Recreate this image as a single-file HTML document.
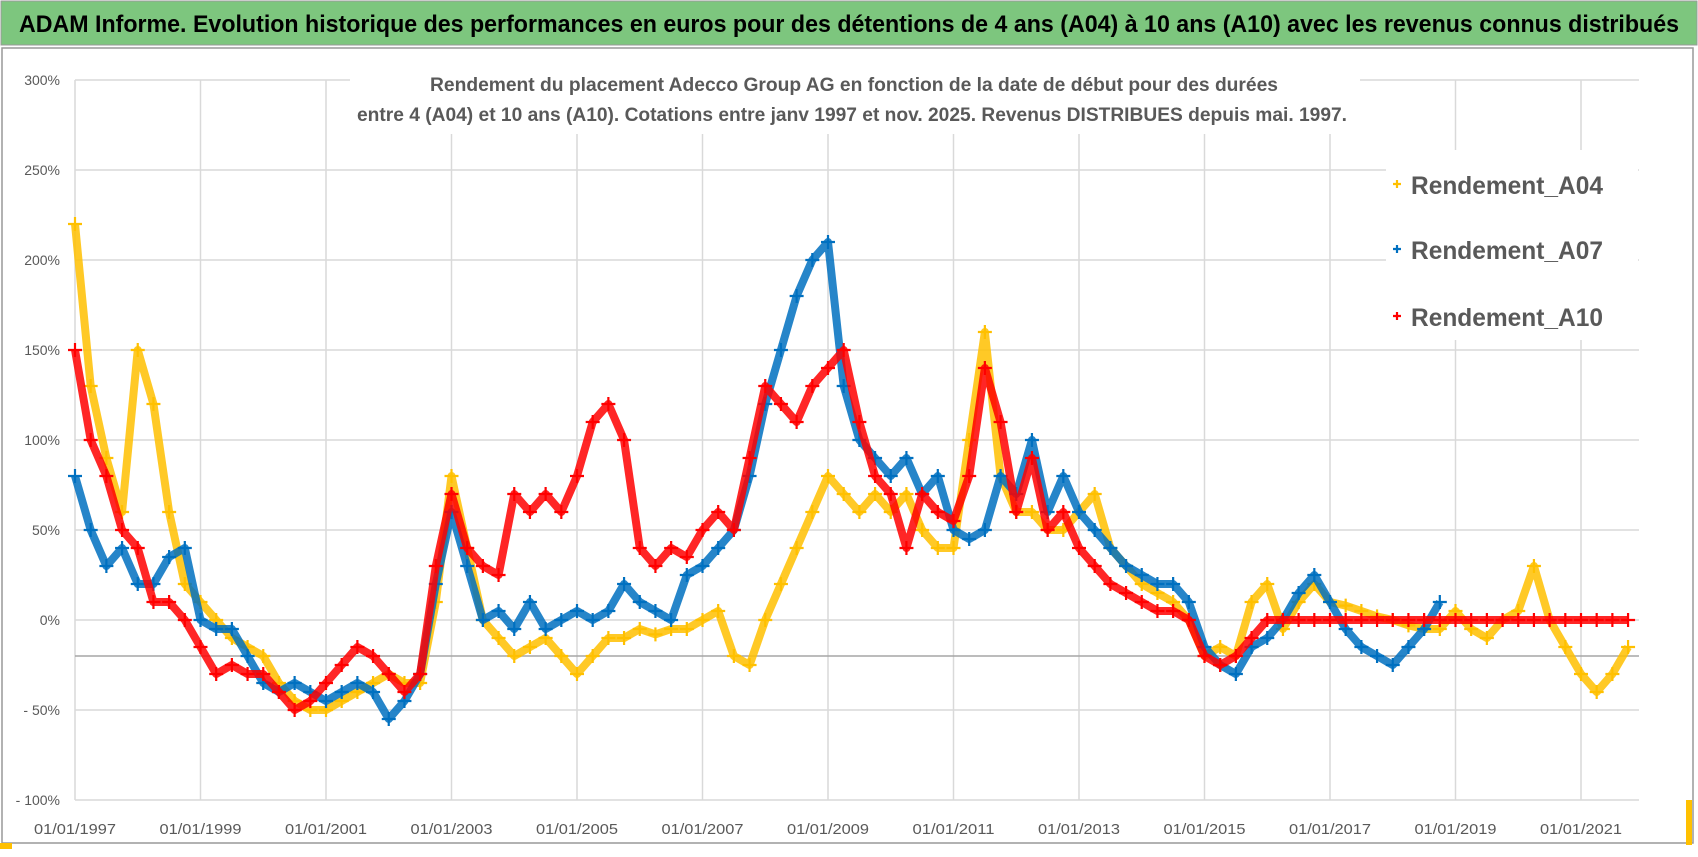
<!DOCTYPE html>
<html><head><meta charset="utf-8"><style>
html,body{margin:0;padding:0;background:#fff;}
svg{display:block;font-family:"Liberation Sans",sans-serif;}
</style></head><body>
<svg id="chart" width="1698" height="857" viewBox="0 0 1698 857">
<rect x="0" y="0" width="1698" height="857" fill="#fff"/>
<rect x="1" y="1" width="1696" height="44" fill="#7DC67E" stroke="#999" stroke-width="1"/>
<text x="849" y="32" text-anchor="middle" font-size="24" font-weight="bold" fill="#000" textLength="1660" lengthAdjust="spacingAndGlyphs">ADAM Informe. Evolution historique des performances en euros pour des détentions de 4 ans (A04) à 10 ans (A10) avec les revenus connus distribués</text>
<rect x="2" y="48" width="1691" height="795" fill="none" stroke="#999" stroke-width="1.5"/>
<g id="grid"></g>
<g id="series"></g>
<rect x="350" y="60" width="1010" height="74" fill="#fff"/>
<text x="854" y="91" text-anchor="middle" font-size="19" font-weight="bold" fill="#595959" textLength="848" lengthAdjust="spacingAndGlyphs">Rendement du placement Adecco Group AG en fonction de la date de début pour des durées</text>
<text x="852" y="121" text-anchor="middle" font-size="19" font-weight="bold" fill="#595959" textLength="990" lengthAdjust="spacingAndGlyphs">entre 4 (A04) et 10 ans (A10). Cotations entre janv 1997 et nov. 2025. Revenus DISTRIBUES depuis mai. 1997.</text>
<g id="legend">
<rect x="1386" y="150" width="252" height="190" fill="#fff"/>
</g>
<g id="yaxis"></g>
<g id="xaxis"></g>
<rect x="0" y="843" width="12" height="6" fill="#FFC000"/>
<rect x="1686" y="800" width="6" height="45" fill="#FFC000"/>
</svg>
<script>
const yTicks = [300,250,200,150,100,50,0,-50,-100];
const yTickLabels = ["300%","250%","200%","150%","100%","50%","0%","- 50%","- 100%"];
const xTickYears = [1997,1999,2001,2003,2005,2007,2009,2011,2013,2015,2017,2019,2021];
const xTickLabels = ["01/01/1997","01/01/1999","01/01/2001","01/01/2003","01/01/2005","01/01/2007","01/01/2009","01/01/2011","01/01/2013","01/01/2015","01/01/2017","01/01/2019","01/01/2021"];
const startYear = 1997;
const stepYears = 0.25;
const seriesNames = ["Rendement_A04","Rendement_A07","Rendement_A10"];
const rendementA04 = [220,130,90,60,150,120,60,20,10,0,-10,-15,-20,-35,-45,-50,-50,-45,-40,-35,-30,-35,-35,10,80,40,0,-10,-20,-15,-10,-20,-30,-20,-10,-10,-5,-8,-5,-5,0,5,-20,-25,0,20,40,60,80,70,60,70,60,70,50,40,40,100,160,80,60,60,50,50,60,70,40,30,20,15,10,0,-20,-15,-20,10,20,-5,10,20,10,8,5,2,0,-3,-5,-5,5,-5,-10,0,5,30,0,-15,-30,-40,-30,-15];
const rendementA07 = [80,50,30,40,20,20,35,40,0,-5,-5,-20,-35,-40,-35,-40,-45,-40,-35,-40,-55,-45,-30,20,60,30,0,5,-5,10,-5,0,5,0,5,20,10,5,0,25,30,40,50,80,120,150,180,200,210,130,100,90,80,90,70,80,50,45,50,80,70,100,60,80,60,50,40,30,25,20,20,10,-15,-25,-30,-15,-10,0,15,25,10,-5,-15,-20,-25,-15,-5,10];
const rendementA10 = [150,100,80,50,40,10,10,0,-15,-30,-25,-30,-30,-40,-50,-45,-35,-25,-15,-20,-30,-40,-30,30,70,40,30,25,70,60,70,60,80,110,120,100,40,30,40,35,50,60,50,90,130,120,110,130,140,150,110,80,70,40,70,60,55,80,140,110,60,90,50,60,40,30,20,15,10,5,5,0,-20,-25,-20,-10,0,0,0,0,0,0,0,0,0,0,0,0,0,0,0,0,0,0,0,0,0,0,0,0];
const seriesColors = ["#FFC000","#0070C0","#FF0000"];

const NS = "http://www.w3.org/2000/svg";
const plotL = 75, plotR = 1639, plotT = 80, plotB = 800;
function xScale(year){ return plotL + (year - 1997) * 62.75; }
function yScale(v){ return 620 - v * 1.8; }
function mk(tag, attrs, parent){ const e=document.createElementNS(NS,tag); for(const k in attrs) e.setAttribute(k,attrs[k]); parent.appendChild(e); return e; }

const grid = document.getElementById('grid');
yTicks.forEach((t,i)=>{
  const l = mk('line',{x1:plotL,x2:plotR,y1:yScale(t),y2:yScale(t),stroke:'#d9d9d9','stroke-width':1.5},grid);
  
  
});
xTickYears.forEach(yr=>{
  if (yr===1997) return;
  const l = mk('line',{x1:xScale(yr),x2:xScale(yr),y1:plotT,y2:plotB,stroke:'#d9d9d9','stroke-width':1.5},grid);
  
  
});
const ax = mk('line',{x1:plotL,x2:plotL,y1:plotT,y2:plotB,stroke:'#d9d9d9','stroke-width':1.5},grid);


const cross = mk('line',{x1:plotL,x2:plotR,y1:yScale(-20),y2:yScale(-20),stroke:'#a6a6a6','stroke-width':1.5},grid);



const yaxis = document.getElementById('yaxis');
yTicks.forEach((t,i)=>{
  const tx = mk('text',{x:60,y:yScale(t)+5,'text-anchor':'end','font-size':14,fill:'#595959'},yaxis);
  tx.textContent = yTickLabels[i];
  
  
});
const xaxis = document.getElementById('xaxis');
xTickYears.forEach((yr,i)=>{
  const tx = mk('text',{x:xScale(yr),y:834,'text-anchor':'middle','font-size':15,fill:'#595959',textLength:82,lengthAdjust:'spacingAndGlyphs'},xaxis);
  tx.textContent = xTickLabels[i];
  
  
});

function plus(g,x,y,color,s){
  return mk('path',{d:`M${x-s},${y}H${x+s}M${x},${y-s}V${y+s}`,stroke:color,'stroke-width':2.2,fill:'none'},g);
}
const seriesG = document.getElementById('series');
[rendementA04,rendementA07,rendementA10].forEach((arr,si)=>{
  const g = mk('g',{},seriesG);
  
  
  const pts = arr.map((v,i)=>[xScale(startYear+i*stepYears), yScale(v)]);
  const pl = mk('polyline',{points:pts.map(p=>p.join(',')).join(' '),stroke:seriesColors[si],'stroke-width':8,fill:'none','stroke-linejoin':'round','stroke-opacity':0.85},g);
  
  
  pts.forEach(p=>{
    const m = plus(g,p[0],p[1],seriesColors[si],7);
    
    
  });
});

const legend = document.getElementById('legend');
const legY = [185,250,317];
seriesNames.forEach((n,i)=>{
  const g = mk('g',{},legend);
  
  
  plus(g,1397,legY[i]-1,seriesColors[i],4);
  const t = mk('text',{x:1411,y:legY[i]+9,'font-size':25,'font-weight':'bold',fill:'#595959',textLength:192,lengthAdjust:'spacingAndGlyphs'},g);
  t.textContent = n;
});
</script>
</body></html>
